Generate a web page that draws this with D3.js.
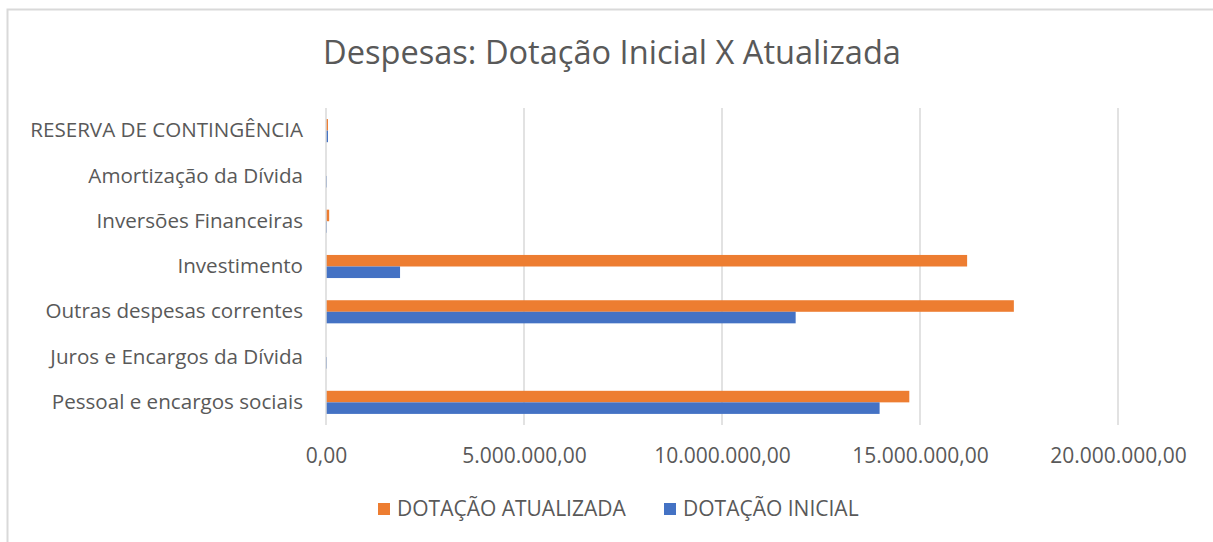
<!DOCTYPE html>
<html>
<head>
<meta charset="utf-8">
<script src="https://cdn.jsdelivr.net/npm/d3@7"></script>
<style>
  body { margin: 0; background: #fff; }
  text { font-family: "Open Sans", "Noto Sans", sans-serif; fill: #595959; }
</style>
</head>
<body>
<div id="chart"></div>
<script>

var categories = ["RESERVA DE CONTINGÊNCIA", "Amortização da Dívida", "Inversões Financeiras",
  "Investimento", "Outras despesas correntes", "Juros e Encargos da Dívida", "Pessoal e encargos sociais"];
var seriesNames = ["DOTAÇÃO ATUALIZADA", "DOTAÇÃO INICIAL"];
var atualizada = [50000, 0, 80000, 16190000, 17370000, 0, 14730000];
var inicial = [50000, 25000, 25000, 1870000, 11860000, 25000, 13980000];
var tickValues = [0, 5000000, 10000000, 15000000, 20000000];
var colors = ["#ed7d31", "#4472c4"];

var W = 1213, H = 542;
var margin = {top: 108, right: 95, bottom: 117, left: 326},
    width = W - margin.left - margin.right,
    height = H - margin.top - margin.bottom;

var svg = d3.select("#chart")
  .append("svg")
    .attr("width", W)
    .attr("height", H);

// chart area border (only top and left visible in the crop)
svg.append("path")
  .attr("d", "M7.5," + H + "V9.5H" + W)
  .attr("fill", "none")
  .attr("stroke", "#d9d9d9")
  .attr("stroke-width", 2);

svg.append("text")
  .attr("x", 612).attr("y", 64)
  .attr("text-anchor", "middle")
  .style("font-size", "32.6px")
  .text("Despesas: Dotação Inicial X Atualizada");

var g = svg.append("g")
  .attr("transform", "translate(" + margin.left + "," + margin.top + ")");

var x = d3.scaleLinear().domain([0, 20000000]).range([0, width]);
var y = d3.scaleBand().domain(categories).range([0, height]).paddingInner(0.49).paddingOuter(0.245);
var ySub = d3.scaleBand().domain(seriesNames).range([0, y.bandwidth()]);

var fmt = d3.formatLocale({decimal: ",", thousands: ".", grouping: [3], currency: ["", ""]}).format(",.2f");

// gridlines
g.selectAll("line.grid")
  .data(tickValues.slice(1))
  .enter().append("line")
    .attr("x1", function(d) { return x(d); })
    .attr("x2", function(d) { return x(d); })
    .attr("y1", 0).attr("y2", height)
    .attr("stroke", "#d9d9d9").attr("stroke-width", 1.5);

// x tick labels
var xAxis = g.append("g")
  .attr("transform", "translate(0," + height + ")")
  .call(d3.axisBottom(x).tickValues(tickValues).tickFormat(fmt).tickSize(0).tickPadding(23));
xAxis.select(".domain").remove();
xAxis.selectAll("text").style("font-size", "21px").attr("fill", "#595959");

// y labels
var yAxis = g.append("g")
  .call(d3.axisLeft(y).tickSize(0).tickPadding(23));
yAxis.select(".domain").remove();
yAxis.selectAll("text").style("font-size", "20.6px").attr("fill", "#595959");

var rows = categories.map(function(c, i) {
  return {cat: c, vals: [atualizada[i], inicial[i]]};
});

var groups = g.selectAll("g.row")
  .data(rows)
  .enter().append("g")
    .attr("transform", function(d) { return "translate(0," + y(d.cat) + ")"; });

groups.selectAll("rect")
  .data(function(d) { return d.vals.map(function(v, j) { return {name: seriesNames[j], v: v, j: j}; }); })
  .enter().append("rect")
    .attr("x", x(0))
    .attr("y", function(d) { return ySub(d.name); })
    .attr("width", function(d) { return x(d.v) - x(0); })
    .attr("height", ySub.bandwidth())
    .attr("fill", function(d) { return colors[d.j]; });

// vertical axis line
g.append("line")
  .attr("x1", 0).attr("x2", 0).attr("y1", 0).attr("y2", height)
  .attr("stroke", "#d9d9d9").attr("stroke-width", 1.5);

// legend
var legendX = [378, 664];
var legend = svg.selectAll("g.legend")
  .data(seriesNames)
  .enter().append("g")
    .attr("transform", function(d, i) { return "translate(" + legendX[i] + ",509)"; });
legend.append("rect")
  .attr("x", 0).attr("y", -6).attr("width", 12).attr("height", 12)
  .attr("fill", function(d, i) { return colors[i]; });
legend.append("text")
  .attr("x", 19).attr("y", 0).attr("dy", "0.35em")
  .style("font-size", "21px")
  .text(function(d) { return d; });

</script>
</body>
</html>
